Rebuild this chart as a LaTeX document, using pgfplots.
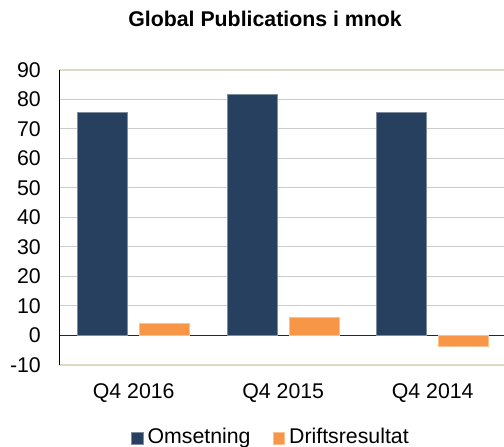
\documentclass[border=0pt]{standalone}
\usepackage{fontspec}
\setmainfont{Liberation Sans}
\usepackage{pgfplots}
\pgfplotsset{compat=1.18}
\definecolor{navy}{HTML}{27405F}
\definecolor{orng}{HTML}{F79646}
\definecolor{bframe}{HTML}{DDD9C3}
\newcommand{\cf}{\fontsize{21.3pt}{25pt}\selectfont}
\begin{document}
\begin{tikzpicture}
\path[use as bounding box] (0,0) rectangle (504pt,447pt);
\begin{axis}[
  at={(59pt,82pt)}, anchor=south west,
  scale only axis, width=445pt, height=295pt,
  xmin=-0.5, xmax=2.477, ymin=-10, ymax=90,
  ytick={-10,0,...,90},
  xtick={0,1,2}, xticklabels={Q4 2016, Q4 2015, Q4 2014},
  major tick length=0pt,
  axis x line=box, axis y line=left,
  axis line style={draw=none},
  clip=false,
  ymajorgrids, grid style={draw=black!20, line width=1pt},
  extra y ticks={0}, extra y tick labels={},
  extra y tick style={grid=major, major grid style={draw=black!85, line width=1pt}},
  ybar=12pt, bar width=50pt,
  tick label style={font=\cf},
  /pgf/number format/assume math mode=true,
  yticklabel style={anchor=east, inner sep=0pt, xshift=-18pt},
  xticklabel style={anchor=north, inner sep=0pt, yshift=-18.3pt},
  title={Global Publications i mnok},
  title style={font=\cf\bfseries, at={(0.463,1)}, anchor=base, yshift=37.7pt, inner sep=0pt},
  legend style={at={(0.1618,-0.2119)}, anchor=north west, draw=none, fill=none,
    inner sep=0pt, outer sep=0pt, font=\cf, legend columns=2,
    /tikz/every even column/.append style={column sep=22pt},
    nodes={inner sep=0pt, text height=15.5pt, text depth=4.5pt}},
  legend cell align=left,
  legend image code/.code={\fill[#1] (0pt,-6.5pt) rectangle (11.5pt,5pt); \path (16pt,0pt);},
]
\addplot[fill=navy, draw=navy!60!white, line width=0.6pt] coordinates {(0,75.7) (1,81.8) (2,75.6)};
\addplot[fill=orng, draw=orng!60!white, line width=0.6pt] coordinates {(0,4.0) (1,6.0) (2,-3.7)};
\legend{Omsetning, Driftsresultat}
\draw[draw=bframe, line width=2pt] (rel axis cs:0,1) -- (rel axis cs:1,1);
\draw[draw=bframe, line width=2pt] (rel axis cs:0,0) -- (rel axis cs:1,0);
\draw[draw=black, line width=1pt] (rel axis cs:0,0) -- (rel axis cs:0,1);
\end{axis}
\end{tikzpicture}
\end{document}
